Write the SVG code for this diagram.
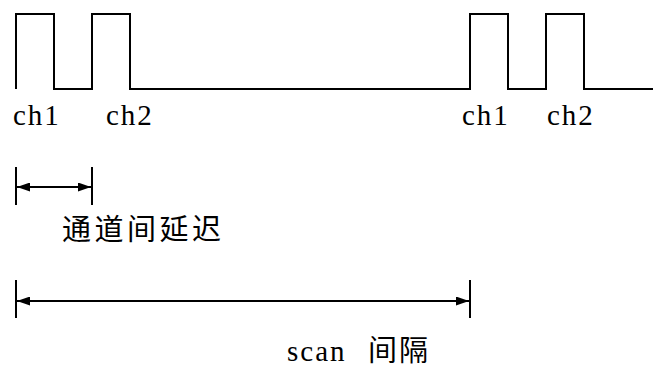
<svg xmlns="http://www.w3.org/2000/svg" width="653" height="368" viewBox="0 0 653 368">
<style>
.w{fill:none;stroke:#000;stroke-width:2}
.lat{font-family:"Liberation Serif",serif;font-size:29px;letter-spacing:2px;fill:#000}
.cjk{font-family:"Noto Sans CJK SC",sans-serif;font-size:29px;fill:#000}
</style>
<defs>
<marker id="ah" viewBox="0 0 13 9" refX="13" refY="4.5" markerWidth="13" markerHeight="9" markerUnits="userSpaceOnUse" orient="auto-start-reverse">
<path d="M0,0 L13,4.5 L0,9 Z" fill="#000"/>
</marker>
</defs>
<rect width="653" height="368" fill="#fff"/>
<g id="waveform">
<path class="w" d="M16,89 V14 H54 V89 H92 V14 H130 V89 H470 V14 H508 V89 H546 V14 H584 V89 H653"/>
</g>
<g id="labels">
<text class="lat" x="13" y="125">ch1</text>
<text class="lat" x="106" y="125">ch2</text>
<text class="lat" x="462" y="125">ch1</text>
<text class="lat" x="547" y="125">ch2</text>
</g>
<g id="connectors">
<line class="w" x1="16" y1="167" x2="16" y2="205"/>
<line class="w" x1="92" y1="167" x2="92" y2="205"/>
<line class="w" x1="17" y1="187" x2="91" y2="187" marker-start="url(#ah)" marker-end="url(#ah)"/>
<line class="w" x1="16" y1="280" x2="16" y2="318"/>
<line class="w" x1="470" y1="280" x2="470" y2="318"/>
<line class="w" x1="17" y1="301" x2="469" y2="301" marker-start="url(#ah)" marker-end="url(#ah)"/>
</g>
<g id="delay-label">
<text class="cjk" x="62" y="240" letter-spacing="3.5">通道间延迟</text>
</g>
<g id="scan-label">
<text class="lat" x="287" y="361">scan</text>
<text class="cjk" x="368" y="361" letter-spacing="2">间隔</text>
</g>
</svg>
